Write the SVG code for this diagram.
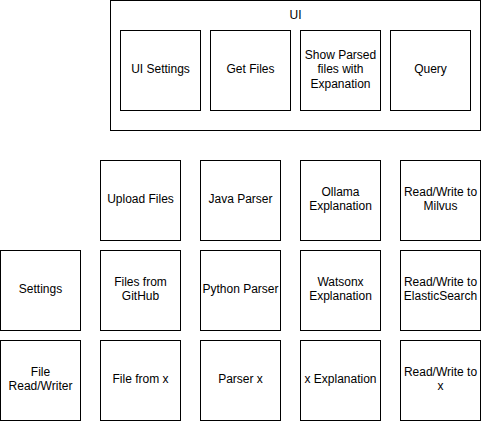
<svg xmlns="http://www.w3.org/2000/svg" width="481" height="421" viewBox="0 0 481 421">
<style>
rect{fill:#fff;stroke:#000;stroke-width:1}
text{font-family:"Liberation Sans",Arial,Helvetica,sans-serif;font-size:12px;fill:#000;text-anchor:middle}
</style>
<rect x="0" y="0" width="481" height="421" style="stroke:none"/>
<g id="ui"><rect x="110.5" y="0.5" width="370" height="130"/><text x="295.5" y="19">UI</text></g>
<g id="ui-settings"><rect x="120.5" y="30.5" width="80" height="80"/><text x="160.5" y="73">UI Settings</text></g>
<g id="get-files"><rect x="210.5" y="30.5" width="80" height="80"/><text x="250.5" y="73">Get Files</text></g>
<g id="show-parsed"><rect x="300.5" y="30.5" width="80" height="80"/><text x="340.5" y="58.5">Show Parsed</text><text x="340.5" y="73">files with</text><text x="340.5" y="87.5">Expanation</text></g>
<g id="query"><rect x="390.5" y="30.5" width="80" height="80"/><text x="430.5" y="73">Query</text></g>

<g id="upload-files"><rect x="100.5" y="160.5" width="80" height="80"/><text x="140.5" y="203">Upload Files</text></g>
<g id="java-parser"><rect x="200.5" y="160.5" width="80" height="80"/><text x="240.5" y="203">Java Parser</text></g>
<g id="ollama"><rect x="300.5" y="160.5" width="80" height="80"/><text x="340.5" y="195.5">Ollama</text><text x="340.5" y="210">Explanation</text></g>
<g id="milvus"><rect x="400.5" y="160.5" width="80" height="80"/><text x="440.5" y="195.5">Read/Write to</text><text x="440.5" y="210">Milvus</text></g>

<g id="settings"><rect x="0.5" y="250.5" width="80" height="80"/><text x="40.5" y="293">Settings</text></g>
<g id="github"><rect x="100.5" y="250.5" width="80" height="80"/><text x="140.5" y="285.5">Files from</text><text x="140.5" y="300">GitHub</text></g>
<g id="python-parser"><rect x="200.5" y="250.5" width="80" height="80"/><text x="240.5" y="293">Python Parser</text></g>
<g id="watsonx"><rect x="300.5" y="250.5" width="80" height="80"/><text x="340.5" y="285.5">Watsonx</text><text x="340.5" y="300">Explanation</text></g>
<g id="elastic"><rect x="400.5" y="250.5" width="80" height="80"/><text x="440.5" y="285.5">Read/Write to</text><text x="440.5" y="300">ElasticSearch</text></g>

<g id="file-rw"><rect x="0.5" y="340.5" width="80" height="80"/><text x="40.5" y="375.5">File</text><text x="40.5" y="390">Read/Writer</text></g>
<g id="file-x"><rect x="100.5" y="340.5" width="80" height="80"/><text x="140.5" y="383">File from x</text></g>
<g id="parser-x"><rect x="200.5" y="340.5" width="80" height="80"/><text x="240.5" y="383">Parser x</text></g>
<g id="x-expl"><rect x="300.5" y="340.5" width="80" height="80"/><text x="340.5" y="383">x Explanation</text></g>
<g id="rw-x"><rect x="400.5" y="340.5" width="80" height="80"/><text x="440.5" y="375.5">Read/Write to</text><text x="440.5" y="390">x</text></g>
<g id="connectors"></g>
</svg>
